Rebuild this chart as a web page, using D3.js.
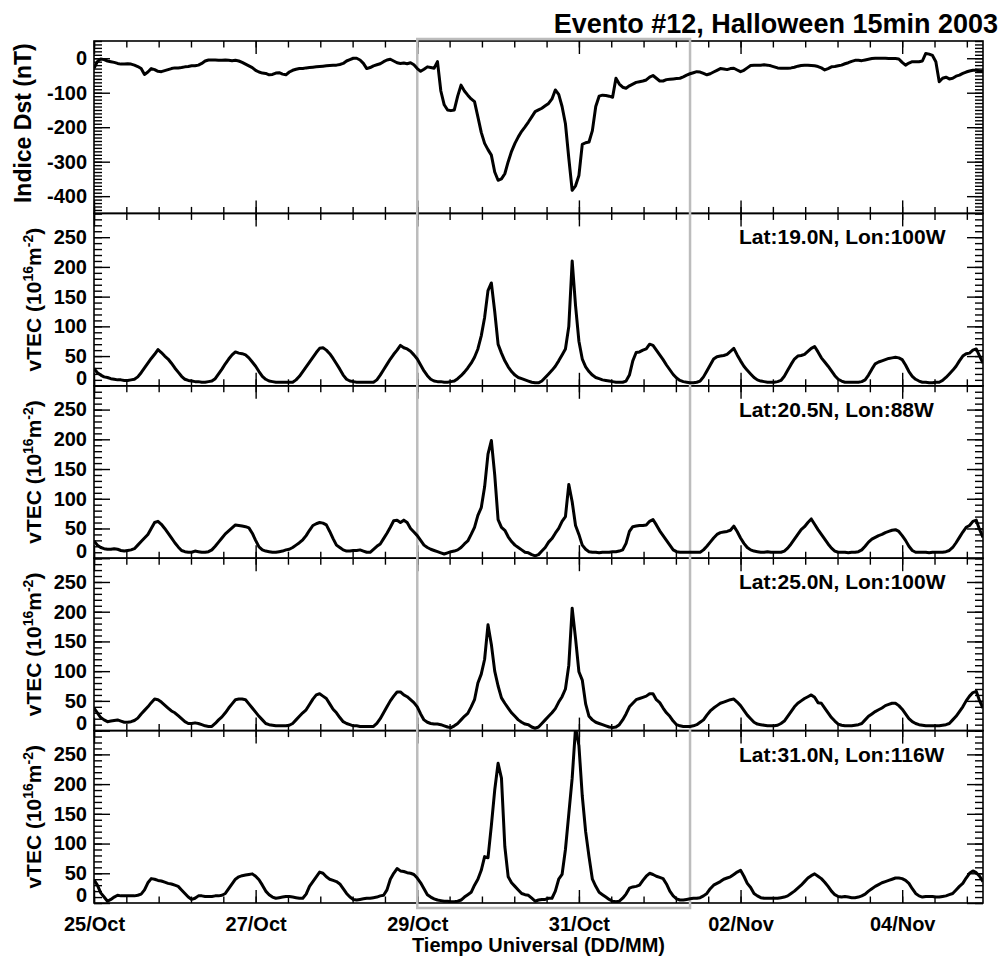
<!DOCTYPE html>
<html>
<head>
<meta charset="utf-8">
<script src="https://cdn.jsdelivr.net/npm/d3@7"></script>
<style>
  body { margin: 0; background: #fff; }
  svg text { font-family: "Liberation Sans", Arial, Helvetica, sans-serif; font-weight: bold; fill: #000; }
</style>
</head>
<body>
<svg id="chart" width="1002" height="958"></svg>
<script>
// Hourly samples starting 25 Oct 2003 00:00 UT (265 samples, one per hour)
const startUTC = Date.UTC(2003, 9, 25, 0);
const endUTC = Date.UTC(2003, 10, 5, 0);

// Dst index (nT), hourly
const dstIndex = [
  -29,-10,-2,-4,-8,-10,-12,-15,-17,-17,-16,-17,-20,-24,-30,-47,-40,-30,-33,-38,-39,-36,-33,-30,
  -28,-28,-27,-25,-24,-22,-22,-20,-15,-8,-5,-5,-5,-6,-6,-5,-6,-7,-6,-8,-12,-17,-22,-27,
  -35,-40,-43,-44,-48,-47,-43,-42,-46,-48,-40,-35,-32,-30,-30,-28,-27,-26,-25,-24,-23,-22,-21,-20,
  -20,-18,-15,-8,-4,0,0,-5,-15,-30,-27,-22,-19,-16,-10,-5,-3,-8,-13,-15,-14,-16,-13,-19,
  -30,-38,-32,-25,-27,-29,-10,-95,-135,-150,-152,-150,-110,-78,-95,-107,-118,-126,-170,-215,-247,-265,-281,-330,
  -354,-350,-335,-300,-270,-247,-228,-212,-199,-185,-170,-155,-150,-145,-138,-131,-118,-92,-105,-140,-190,-290,-383,-370,
  -340,-250,-245,-243,-210,-140,-110,-107,-108,-110,-113,-58,-75,-84,-87,-80,-75,-70,-68,-66,-63,-55,-50,-58,
  -66,-66,-62,-61,-60,-59,-58,-54,-49,-45,-42,-39,-40,-44,-48,-45,-40,-35,-30,-31,-33,-30,-29,-34,
  -39,-35,-28,-21,-20,-20,-20,-19,-20,-22,-25,-28,-29,-29,-29,-28,-26,-23,-21,-20,-20,-21,-22,-24,
  -28,-34,-30,-25,-24,-22,-20,-16,-13,-9,-6,-6,-7,-5,-3,-1,0,0,0,0,-1,-1,-1,-2,
  -12,-20,-14,-10,-10,-10,-8,14,12,8,-10,-68,-58,-55,-60,-58,-52,-49,-44,-40,-37,-35,-35,-37,
  -38
];

// vTEC (TECU), hourly, one series per station
const tecLat19Lon100 = [
  29,22,18,15,14,12,11,10,10,9,9,10,11,15,22,30,38,46,53,61,56,50,45,38,
  30,23,16,11,9,8,7,7,6,6,7,8,12,20,28,37,45,52,57,55,54,52,47,40,
  33,24,16,11,8,7,6,6,6,6,6,6,10,16,24,32,40,48,56,63,64,60,54,46,
  37,28,18,11,8,7,6,6,6,6,6,6,10,18,27,36,45,53,60,68,64,62,58,52,
  45,35,25,17,11,8,7,7,6,6,7,8,12,17,23,30,38,48,62,84,115,160,173,125,
  70,55,42,32,24,18,14,12,10,8,6,5,5,8,14,20,26,33,42,52,62,100,210,135,
  75,45,32,24,18,14,12,10,9,8,7,6,6,6,8,18,42,56,57,60,62,70,68,60,
  52,44,35,27,19,13,9,7,6,5,5,6,8,15,25,35,45,49,50,51,53,58,63,52,
  42,33,26,20,14,10,8,7,6,6,6,7,9,16,26,36,45,50,51,53,58,63,66,57,
  47,40,33,25,17,11,8,6,6,6,6,6,7,10,18,28,37,40,42,44,46,47,48,47,
  44,35,24,16,11,8,6,6,5,5,6,6,9,14,20,26,33,42,50,54,55,60,62,50,
  38
];
const tecLat205Lon88 = [
  29,22,18,16,15,15,16,15,13,12,13,14,16,22,28,34,40,50,60,62,57,50,42,34,
  26,19,13,11,10,10,12,11,10,10,11,14,20,27,34,41,46,51,56,55,54,53,51,42,
  30,19,14,12,11,10,10,11,12,14,15,18,22,26,31,38,47,55,58,60,59,56,45,33,
  22,18,14,12,12,13,13,14,12,10,10,15,20,24,33,42,52,63,64,60,64,60,50,44,
  38,30,22,18,15,13,11,9,7,9,11,12,14,18,24,29,40,52,72,85,120,175,198,140,
  65,52,47,36,28,22,18,14,10,9,6,4,6,12,18,27,33,42,50,62,70,124,95,55,
  40,22,15,11,10,10,9,10,10,10,11,11,12,14,25,45,53,54,55,55,56,62,65,56,
  46,38,30,22,14,11,10,10,10,10,10,10,10,14,20,27,34,40,43,44,45,47,54,45,
  34,25,18,14,12,11,10,10,11,10,10,10,10,12,17,24,32,40,48,53,60,66,57,48,
  40,32,24,17,12,10,10,10,9,10,10,11,14,20,27,32,35,38,40,43,45,47,48,45,
  38,30,20,13,10,10,10,10,9,10,10,10,10,11,13,18,26,35,44,52,55,62,64,48,
  35
];
const tecLat25Lon100 = [
  38,30,22,18,15,16,17,18,16,14,14,15,17,21,28,34,40,47,53,52,48,43,38,33,
  30,25,20,15,12,12,13,12,10,8,7,7,12,18,23,30,38,45,52,53,53,52,45,38,
  31,24,18,12,10,9,8,8,8,8,9,12,18,24,30,35,44,53,60,62,58,54,45,36,
  30,22,15,12,10,8,8,7,7,7,7,7,12,20,30,40,50,58,65,65,60,57,52,47,
  40,28,18,14,12,11,11,10,8,6,5,8,12,18,24,29,40,52,80,95,120,178,145,100,
  75,55,46,38,30,24,18,14,11,10,6,4,6,12,18,24,30,37,48,57,70,110,206,155,
  99,85,45,24,18,14,12,10,8,6,5,6,10,18,28,40,46,52,54,56,58,62,62,52,
  47,38,30,24,16,10,8,7,7,7,8,10,14,18,26,33,38,42,46,48,50,52,53,48,
  42,34,26,20,14,11,10,9,8,8,8,9,12,16,24,32,40,46,50,54,57,60,56,47,
  46,38,30,22,16,11,9,8,8,8,9,10,12,18,24,28,32,35,38,42,44,46,46,42,
  36,28,20,15,12,10,9,8,8,8,8,8,9,10,12,18,24,32,40,50,58,64,66,50,
  38
];
const tecLat31Lon116 = [
  39,30,17,10,3,6,10,13,12,12,12,12,12,13,15,22,34,41,40,38,37,35,33,32,
  30,28,22,16,10,6,8,12,12,11,11,11,12,12,13,16,24,32,40,44,46,47,48,49,
  45,39,30,20,14,10,8,9,10,11,11,10,9,8,8,15,28,36,44,52,50,44,40,38,
  36,32,24,16,10,6,5,6,7,8,8,9,10,12,13,22,40,50,58,54,53,51,50,48,
  42,34,24,14,10,7,5,4,3,3,2,2,3,5,10,14,18,30,40,55,78,76,130,190,
  235,210,95,44,34,28,22,16,14,13,8,3,5,6,6,8,8,20,40,48,90,150,210,295,
  265,180,120,78,40,28,18,14,10,6,3,2,3,8,15,25,27,28,30,38,45,50,48,45,
  43,41,32,20,12,7,5,5,6,7,8,8,9,12,16,24,30,33,36,40,42,44,48,52,
  55,45,33,26,16,12,9,8,8,8,8,8,9,10,12,16,20,25,30,36,42,46,49,45,
  41,35,28,20,14,11,10,11,10,9,9,10,12,15,20,24,28,31,34,36,38,40,42,42,
  41,38,33,24,16,12,10,11,11,11,10,10,11,12,14,16,22,28,33,42,50,54,51,45,
  36
];

const stationLabels = ["Lat:19.0N, Lon:100W", "Lat:20.5N, Lon:88W", "Lat:25.0N, Lon:100W", "Lat:31.0N, Lon:116W"];
const stationSeries = [tecLat19Lon100, tecLat205Lon88, tecLat25Lon100, tecLat31Lon116];

const xTickLabels = ["25/Oct", "27/Oct", "29/Oct", "31/Oct", "02/Nov", "04/Nov"];
const dstTickValues = [0, -100, -200, -300, -400];
const tecTickValues = [0, 50, 100, 150, 200, 250];
const dstDomain = [-450, 50];
const tecDomain = [0, 290];
// storm interval highlighted with the grey frame
const stormStart = Date.UTC(2003, 9, 29, 0);
const stormEnd = Date.UTC(2003, 10, 1, 9);

const titleText = "Evento #12, Halloween 15min 2003";
const xAxisTitle = "Tiempo Universal (DD/MM)";

// ---- layout ----
const svg = d3.select("#chart");
const plotLeft = 94, plotRight = 983, plotTop = 41, plotBottom = 903;
const nPanels = 5;
const panelH = (plotBottom - plotTop) / nPanels;
const HOUR = 3600 * 1000;

const x = d3.scaleUtc().domain([new Date(startUTC), new Date(endUTC)]).range([plotLeft, plotRight]);
const sampleTime = i => new Date(startUTC + i * HOUR);

const totalHours = (endUTC - startUTC) / HOUR;
const xMinor = d3.range(0, totalHours + 0.01, 9.6).map(h => new Date(startUTC + h * HOUR));
const xMajor = d3.range(0, totalHours + 0.01, 48).map(h => new Date(startUTC + h * HOUR));

function styleTicks(g) {
  g.selectAll(".tick line").attr("stroke", "#000").attr("stroke-width", 1.4);
  g.select(".domain").remove();
}

function drawPanel(index, domain, majorVals, minorStep, series) {
  const top = plotTop + index * panelH;
  const bottom = top + panelH;
  const y = d3.scaleLinear().domain(domain).range([bottom, top]);
  const minorVals = d3.range(domain[0], domain[1] + 0.01, minorStep);
  const g = svg.append("g").attr("class", "panel");

  // y axes, left (labelled) and right
  g.append("g").attr("transform", `translate(${plotLeft},0)`)
    .call(d3.axisLeft(y).tickValues(minorVals).tickSize(-8).tickFormat(""))
    .call(styleTicks);
  const yl = g.append("g").attr("transform", `translate(${plotLeft},0)`)
    .call(d3.axisLeft(y).tickValues(majorVals).tickSize(-16).tickPadding(7).tickFormat(d => String(d)))
    .call(styleTicks);
  yl.attr("font-family", null).attr("font-size", null);
  yl.selectAll("text").style("font-size", "20px")
    .attr("y", d => { const limit = bottom - 7.5; const ty = y(d); return ty > limit ? limit - ty : 0; });
  g.append("g").attr("transform", `translate(${plotRight},0)`)
    .call(d3.axisRight(y).tickValues(minorVals).tickSize(-8).tickFormat(""))
    .call(styleTicks);
  g.append("g").attr("transform", `translate(${plotRight},0)`)
    .call(d3.axisRight(y).tickValues(majorVals).tickSize(-16).tickFormat(""))
    .call(styleTicks);

  // x ticks on top and bottom edges of every panel
  [[d3.axisTop, top], [d3.axisBottom, bottom]].forEach(([axisFn, yy]) => {
    g.append("g").attr("transform", `translate(0,${yy})`)
      .call(axisFn(x).tickValues(xMinor).tickSize(-6.5).tickFormat(""))
      .call(styleTicks);
    g.append("g").attr("transform", `translate(0,${yy})`)
      .call(axisFn(x).tickValues(xMajor).tickSize(-13).tickFormat(""))
      .call(styleTicks);
  });

  // panel frame
  g.append("rect")
    .attr("x", plotLeft).attr("y", top)
    .attr("width", plotRight - plotLeft).attr("height", panelH)
    .attr("fill", "none").attr("stroke", "#000").attr("stroke-width", 1.6);

  return { g, y, top, bottom, series };
}

const panels = [];
panels.push(drawPanel(0, dstDomain, dstTickValues, 10, dstIndex));
stationSeries.forEach((s, i) => panels.push(drawPanel(i + 1, tecDomain, tecTickValues, 10, s)));

// grey frame marking the storm interval
svg.append("rect")
  .attr("x", x(new Date(stormStart))).attr("y", plotTop - 2)
  .attr("width", x(new Date(stormEnd)) - x(new Date(stormStart)))
  .attr("height", plotBottom - plotTop + 7)
  .attr("fill", "none").attr("stroke", "#bcbcbc").attr("stroke-width", 2.5);

// data curves, clipped to their panels
const defs = svg.append("defs");
panels.forEach((p, i) => {
  defs.append("clipPath").attr("id", `clip${i}`)
    .append("rect").attr("x", plotLeft).attr("y", p.top)
    .attr("width", plotRight - plotLeft).attr("height", panelH);
  const line = d3.line().x((d, k) => x(sampleTime(k))).y(d => p.y(d));
  svg.append("path")
    .datum(p.series)
    .attr("clip-path", `url(#clip${i})`)
    .attr("d", line)
    .attr("fill", "none").attr("stroke", "#000")
    .attr("stroke-width", 3).attr("stroke-linejoin", "round");
});

// station labels
stationLabels.forEach((lab, i) => {
  svg.append("text")
    .attr("x", 739).attr("y", panels[i + 1].top + 31)
    .style("font-size", "21px")
    .text(lab);
});

// y-axis titles
svg.append("text")
  .attr("transform", `translate(31,${plotTop + panelH / 2 - 4}) rotate(-90)`)
  .attr("text-anchor", "middle").style("font-size", "23px")
  .text("Indice Dst (nT)");
panels.slice(1).forEach(p => {
  const t = svg.append("text")
    .attr("transform", `translate(41,${(p.top + p.bottom) / 2}) rotate(-90)`)
    .attr("text-anchor", "middle").style("font-size", "21px");
  t.append("tspan").text("vTEC (10");
  t.append("tspan").attr("dy", -8).style("font-size", "14px").text("16");
  t.append("tspan").attr("dy", 8).text("m");
  t.append("tspan").attr("dy", -8).style("font-size", "14px").text("-2");
  t.append("tspan").attr("dy", 8).text(")");
});

// bottom date labels
const xl = svg.append("g").attr("transform", `translate(0,${plotBottom})`)
  .call(d3.axisBottom(x).tickValues(xMajor.slice(0, xTickLabels.length)).tickSize(0).tickPadding(13.5)
    .tickFormat((d, i) => xTickLabels[i]));
xl.select(".domain").remove();
xl.attr("font-family", null).attr("font-size", null);
xl.selectAll("text").style("font-size", "20px");

svg.append("text")
  .attr("x", (plotLeft + plotRight) / 2).attr("y", 952)
  .attr("text-anchor", "middle").style("font-size", "20px")
  .text(xAxisTitle);

svg.append("text")
  .attr("x", 998).attr("y", 33)
  .attr("text-anchor", "end").style("font-size", "27px")
  .text(titleText);
</script>
</body>
</html>
